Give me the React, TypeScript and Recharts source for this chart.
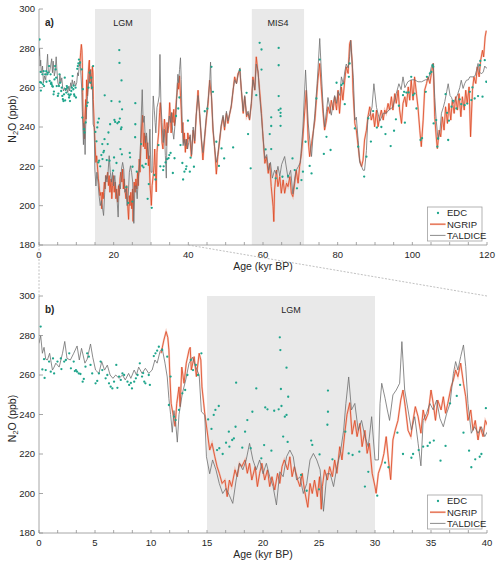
import React from 'react';
import { ComposedChart, Line, Scatter, XAxis, YAxis, ReferenceArea } from 'recharts';

// ---- N2O records (age in kyr BP, mixing ratio in ppb) ----

const edc: [number, number][] = [
  [0.15, 284.5], [0.3, 262.8], [0.45, 268], [0.5, 258.5], [0.6, 262.5], [0.9, 266.8], [1.05, 261.7], [1.25, 268.4],
  [1.35, 260.8], [1.65, 266.8], [1.95, 268.4], [2.0, 263], [2.25, 266.8], [2.4, 267.6], [2.7, 271], [2.85, 263.4],
  [3.1, 266.8], [3.2, 262], [3.3, 262.5], [3.4, 261.7], [3.55, 260.8], [3.7, 260.5], [3.9, 256.6], [4.0, 258],
  [4.15, 264.2], [4.3, 271], [4.45, 269.3], [4.6, 265.1], [4.75, 260.8], [5.05, 255.8], [5.2, 257], [5.35, 260.8],
  [5.5, 266.8], [5.65, 262.5], [5.95, 258.3], [6.1, 260], [6.25, 255.8], [6.4, 254.1], [6.55, 253.2], [6.7, 256.6],
  [6.9, 265.1], [7.0, 253.5], [7.15, 259.2], [7.3, 257.5], [7.45, 260.8], [7.6, 260], [7.9, 256.6], [8.05, 255],
  [8.2, 256], [8.3, 253.2], [8.5, 256.6], [8.65, 258.3], [8.8, 260], [9.0, 265.9], [9.2, 259.2], [9.3, 261],
  [9.4, 256.6], [9.5, 255.8], [9.8, 260], [9.9, 255], [10.25, 269.6], [10.4, 271], [10.55, 272.3], [10.7, 274.3],
  [11.0, 272.7], [11.45, 269.3], [11.6, 244.8], [11.75, 259.2], [12.05, 238.9], [12.2, 237.2], [12.5, 242.3],
  [12.8, 250.7], [13.05, 252.4], [13.25, 260], [13.55, 267.6], [13.75, 262.5], [14.0, 265.1], [14.2, 260], [14.5, 271],
  [15.1, 237.5], [15.4, 232.7], [15.6, 239.8], [15.75, 242.3], [15.9, 222], [16.05, 244.3], [16.1, 222.9], [16.4, 220],
  [16.7, 225.7], [16.95, 231.3], [17.0, 223.7], [17.25, 227.1], [17.4, 227.9], [17.55, 233.8], [17.6, 256.1],
  [18.15, 223.2], [18.4, 231.3], [18.6, 237.2], [18.9, 222.9], [19.05, 241.4], [19.4, 253.2], [19.85, 217.8],
  [20.1, 224.5], [20.2, 243.6], [20.4, 242.6], [20.75, 221.7], [21.0, 241.9], [21.4, 242.6], [21.5, 279.1],
  [21.55, 272.6], [21.6, 252.9], [21.65, 244.3], [21.8, 228.8], [21.95, 238.9], [22.1, 239.8], [22.1, 263.7],
  [22.2, 226.1], [22.25, 249], [23.4, 209.4], [23.9, 201.4], [24.3, 226.8], [24.4, 224.6], [25.0, 202.1],
  [25.05, 219.8], [25.75, 234.8], [25.8, 241.4], [25.8, 252.1], [26.2, 217.3], [27.35, 231.3], [27.65, 220.3],
  [28.0, 219.5], [28.6, 221.2], [29.1, 203.5], [29.4, 211], [30.2, 198.9], [30.9, 215.6], [31.2, 213.3], [32.0, 230.8],
  [32.5, 220], [33.25, 218.1], [33.4, 220], [33.9, 222], [34.3, 223.7], [34.7, 224.1], [34.9, 225.7], [35.25, 226.8],
  [35.85, 216.6], [36.3, 224.1], [36.7, 245.6], [37.3, 249.4], [37.6, 255], [37.9, 230.8], [38.4, 221.7], [38.6, 213.3],
  [38.95, 217.3], [39.35, 218.6], [39.5, 220], [39.9, 243.2], [40.4, 217.3], [40.6, 224.4], [41.5, 219.8], [44.4, 248],
  [45.1, 249.3], [46.2, 270.6], [46.6, 257.9], [47.5, 232.5], [48.2, 220.2], [48.9, 229.1], [49.6, 224], [52.0, 229.6],
  [53.8, 268.9], [55.6, 257.4], [56.0, 236.4], [56.7, 219], [58.2, 256.2], [59.1, 282.8], [59.6, 279.4], [59.6, 269.2],
  [60.7, 228.6], [61.8, 236.4], [62.2, 244.9], [62.2, 240.5], [62.2, 228.8], [63.4, 213.9], [64.2, 280.2], [64.2, 271.4],
  [64.2, 255.7], [64.2, 248.6], [64.7, 249.3], [64.7, 247.2], [64.7, 245.5], [64.7, 240.6], [65.2, 214.7], [66.7, 215.1],
  [67.9, 224], [68.5, 218.1], [69.1, 208.8], [70.3, 213], [70.7, 217.3], [71.4, 232.5], [72.5, 220.2], [73.0, 216.4],
  [74.3, 254.5], [75.2, 274.3], [76.3, 226.3], [77.0, 235], [78.1, 228.3], [79.7, 262.5], [81.0, 261.3], [81.4, 262.1],
  [81.9, 251.6], [83.0, 265.5], [83.2, 272.3], [84.6, 239.3], [85.5, 230], [87.1, 214.8], [87.7, 224.9], [88.2, 244.4],
  [88.9, 232.6], [89.5, 248.1], [90.5, 239.7], [91.7, 240], [92.8, 236.4], [94.2, 230.3], [95.1, 238.1], [95.6, 243.9],
  [96.4, 250.8], [97.5, 256.2], [97.8, 257.9], [98.0, 242.2], [98.4, 257.5], [99.0, 257.6], [99.7, 265.5], [100.2, 256.2],
  [100.6, 257], [101.1, 249.4], [102.2, 233.4], [102.6, 234.3], [103.6, 257.9], [103.9, 265.5], [104.7, 267.2],
  [105.1, 268], [105.4, 271.4], [105.6, 270.6], [105.7, 241.8], [106.4, 243.5], [106.7, 230], [106.9, 234.2],
  [108.9, 256.7], [109.3, 247.2], [109.6, 233.4], [109.8, 243.2], [110.5, 250.3], [110.9, 253.3], [111.8, 249.4],
  [112.7, 254], [113.1, 251.6], [114.0, 251.1], [114.7, 251.9], [115.4, 257.9], [115.8, 253.7], [116.1, 260.1],
  [116.7, 254.5], [117.6, 255.7], [118.1, 271.4], [118.2, 273.6], [118.8, 255.4], [119.4, 274], [119.8, 263],
];

const ngrip: [number, number][] = [
  [10.9, 271], [11.15, 277.7], [11.35, 282], [11.5, 279], [11.6, 272.7], [11.7, 257.5], [11.8, 245.6], [12.0, 239],
  [12.15, 234], [12.3, 245.6], [12.5, 254], [12.6, 244], [12.75, 264], [12.95, 255.8], [13.15, 266], [13.4, 272.7],
  [13.5, 274], [13.6, 262.5], [13.85, 269.3], [14.05, 259.2], [14.3, 271], [14.45, 267.6], [14.55, 254], [14.8, 240.6],
  [15.0, 232.1], [15.24, 222], [15.45, 225.4], [15.7, 218.6], [15.9, 213.6], [16.1, 210.2], [16.35, 205.1], [16.6, 206.8],
  [16.8, 198.4], [17.0, 206.8], [17.2, 203.5], [17.5, 212], [17.7, 208.5], [17.9, 215.3], [18.1, 213.6], [18.4, 217],
  [18.6, 210.2], [18.8, 215.3], [19.0, 206.8], [19.3, 213.6], [19.5, 203.5], [19.7, 210.2], [19.9, 215.3], [20.15, 206.8],
  [20.4, 212], [20.6, 203.5], [20.8, 208.5], [21.05, 201.8], [21.3, 210.2], [21.5, 205.1], [21.7, 213.6], [21.9, 217],
  [22.2, 212], [22.4, 218.6], [22.6, 208.5], [22.8, 213.6], [23.1, 206.8], [23.3, 203.5], [23.5, 210.2], [23.7, 201.8],
  [24.0, 193], [24.2, 205.1], [24.4, 200], [24.6, 206.8], [24.85, 198.4], [25.05, 208.5], [25.2, 192], [25.3, 203.5],
  [25.5, 212], [25.75, 206.8], [25.95, 213.6], [26.2, 208.5], [26.4, 217], [26.6, 210.2], [26.85, 223.7], [27.05, 217],
  [27.3, 230.5], [27.5, 240], [27.75, 246], [27.95, 230], [28.2, 237], [28.4, 228.8], [28.65, 235.5], [28.85, 223.7],
  [29.1, 232], [29.3, 220.3], [29.5, 225.4], [29.75, 210.2], [30.0, 203.5], [30.1, 200.1], [30.3, 210.2], [30.6, 215.3],
  [30.8, 220.3], [31.0, 228.8], [31.2, 217], [31.4, 207], [31.6, 227.1], [31.8, 232], [32.05, 237], [32.3, 247.3],
  [32.5, 252.4], [32.7, 244], [32.95, 232], [33.2, 228.8], [33.4, 237], [33.6, 244], [33.85, 238.9], [34.1, 230.5],
  [34.3, 242.3], [34.5, 237], [34.75, 240.6], [35.0, 252.4], [35.2, 245.6], [35.4, 237], [35.6, 247.3], [35.9, 242.3],
  [36.1, 249], [36.3, 240.6], [36.5, 245.6], [36.8, 254], [37.0, 257.5], [37.2, 262.5], [37.4, 259.2], [37.65, 266],
  [37.9, 255.8], [38.1, 249], [38.3, 237], [38.55, 242.3], [38.75, 232], [38.95, 237], [39.2, 227.1], [39.4, 233.8],
  [39.65, 228.8], [39.85, 237], [40.1, 233.8], [40.4, 235], [40.8, 225], [41.3, 238.4], [41.7, 231.7], [42.1, 245.2],
  [42.6, 258.7], [43.0, 246.9], [43.5, 233.4], [43.9, 223.2], [44.4, 235], [44.8, 243.5], [45.3, 252], [45.7, 263.8],
  [46.2, 255.4], [46.6, 238.4], [47.1, 228.3], [47.5, 216], [47.9, 225], [48.4, 233.4], [48.8, 240.1], [49.3, 245.2],
  [49.7, 238.4], [50.2, 246.9], [50.6, 241.8], [51.1, 246.9], [51.5, 250.3], [52.0, 258.7], [52.4, 265.5], [52.9, 262.1],
  [53.3, 267.2], [53.8, 268.9], [54.2, 258.7], [54.7, 246.9], [55.1, 255.4], [55.6, 245.2], [56.0, 246.9], [56.4, 243.5],
  [56.9, 252], [57.3, 265.5], [57.8, 258.7], [58.2, 275.7], [58.7, 267.2], [59.1, 258.7], [59.6, 246.9], [60.0, 235],
  [60.5, 221.5], [60.9, 224.9], [61.4, 216.4], [61.8, 221.5], [62.2, 209.7], [62.7, 199.5], [62.9, 191.9], [63.1, 208],
  [63.6, 218.1], [64.0, 209.7], [64.5, 214.8], [64.9, 206.3], [65.4, 213.1], [65.8, 206.3], [66.3, 211.4], [66.7, 209.7],
  [67.2, 214.8], [67.6, 206.3], [68.0, 204.6], [68.5, 211.4], [68.9, 218.1], [69.4, 211.4], [69.8, 219.8], [70.3, 226.6],
  [70.7, 235], [71.2, 248.6], [71.6, 258.7], [72.1, 233.4], [72.5, 224.9], [73.0, 231.7], [73.4, 236.7], [73.9, 243.5],
  [74.3, 253.6], [74.7, 263.8], [75.2, 272.3], [75.6, 260.4], [76.1, 246.9], [76.5, 238.4], [77.0, 243.5], [77.4, 250.3],
  [77.9, 246.9], [78.3, 253.6], [78.8, 248.6], [79.2, 255.4], [79.7, 248.6], [80.1, 258.7], [80.5, 246.9], [81.0, 260.4],
  [81.4, 253.6], [81.9, 263.8], [82.3, 270.6], [82.8, 267.2], [83.2, 282.4], [83.5, 284.1], [83.9, 272.3], [84.1, 258.7],
  [84.6, 241.8], [85.0, 238.4], [85.5, 230], [85.9, 223.2], [86.4, 219.8], [86.8, 223.2], [87.2, 233.4], [87.7, 238.4],
  [88.1, 245.2], [88.6, 250.3], [89.0, 243.5], [89.5, 246.9], [89.9, 240.1], [90.4, 248.6], [90.8, 240.1], [91.3, 245.2],
  [91.7, 248.6], [92.2, 243.5], [92.6, 248.6], [93.0, 246.9], [93.5, 252], [93.9, 248.6], [94.4, 255.4], [94.8, 248.6],
  [95.3, 257], [95.7, 252], [96.2, 258.7], [96.6, 248.6], [97.1, 241.8], [97.5, 252], [98.0, 255.4], [98.4, 250.3],
  [98.9, 260.4], [99.3, 253.6], [99.7, 263.8], [100.2, 253.6], [100.6, 265.5], [101.1, 257], [101.5, 250.3], [102.0, 238.4],
  [102.4, 230], [102.9, 243.5], [103.3, 258.7], [103.8, 262.1], [104.2, 265.5], [104.7, 262.1], [105.1, 267.2],
  [105.6, 272.3], [105.8, 258.7], [106.0, 245.2], [106.4, 235], [106.7, 229], [107.2, 238.4], [107.6, 235], [108.05, 245.2],
  [108.5, 238.4], [108.9, 250.3], [109.4, 241.8], [109.8, 252], [110.3, 243.5], [110.7, 253.6], [111.2, 246.9],
  [111.6, 255.4], [112.1, 248.6], [112.5, 257], [113.0, 245.2], [113.4, 255.4], [113.9, 248.6], [114.3, 258.7], [114.7, 252],
  [115.2, 260.4], [115.6, 235], [116.1, 258.7], [116.5, 265.5], [117.0, 262.1], [117.4, 270.6], [117.9, 265.5],
  [118.3, 273.9], [118.8, 279], [119.1, 275.6], [119.5, 285.8], [119.8, 289],
];

const taldice: [number, number][] = [
  [0, 276], [0.15, 280], [0.3, 271], [0.45, 274], [0.6, 268], [0.75, 267.6], [0.95, 271], [1.2, 262.5], [1.35, 264],
  [1.5, 266], [1.8, 264], [2.1, 271], [2.3, 277], [2.5, 268.4], [2.8, 267.6], [3.1, 271], [3.4, 274.7], [3.6, 267.6],
  [3.8, 273.5], [4.1, 266], [4.3, 268], [4.6, 275.7], [4.8, 269], [5.05, 262.5], [5.35, 260.8], [5.6, 266.8], [5.85, 262.5],
  [6.1, 265], [6.35, 260], [6.6, 258.3], [6.85, 260], [7.15, 258.3], [7.45, 260], [7.7, 257.5], [8.0, 260.8], [8.2, 258.3],
  [8.5, 262.5], [8.7, 260], [8.9, 264], [9.2, 260.8], [9.5, 263.4], [9.8, 260.8], [10.1, 262.5], [10.35, 267.6], [10.55, 266],
  [10.8, 271.8], [11.0, 273.5], [11.25, 266], [11.45, 259], [11.6, 248], [11.75, 240], [11.9, 231], [12.05, 242], [12.2, 236],
  [12.35, 226], [12.5, 240], [12.8, 250.7], [13.1, 257.5], [13.4, 266], [13.7, 269], [14.0, 264], [14.3, 260], [14.5, 241.4],
  [14.8, 239.7], [14.95, 218.6], [15.24, 210], [15.5, 217], [15.8, 212], [16.1, 205], [16.4, 200], [16.7, 202.6], [17.0, 199],
  [17.3, 195], [17.6, 206.8], [17.9, 215.3], [18.2, 212], [18.5, 217], [18.8, 225.4], [19.1, 217], [19.4, 212], [19.7, 217],
  [20.0, 210], [20.3, 215.3], [20.6, 208.5], [20.9, 203.5], [21.2, 194.2], [21.5, 211], [21.8, 208.5], [22.1, 218.6],
  [22.4, 222], [22.7, 218.6], [23.0, 206.8], [23.3, 208.5], [23.6, 200], [23.9, 205], [24.2, 217], [24.5, 220.3], [24.8, 217],
  [25.1, 212], [25.4, 191], [25.7, 210], [26.0, 210], [26.3, 203.5], [26.6, 213.6], [26.9, 220.3], [27.2, 232], [27.4, 245.6],
  [27.65, 259], [27.9, 242.3], [28.2, 245.6], [28.5, 232], [28.8, 237], [29.1, 228.8], [29.4, 223.7], [29.7, 238.9],
  [30.0, 217], [30.3, 217], [30.45, 245.6], [30.6, 255.8], [30.9, 248.2], [31.1, 242.3], [31.3, 237], [31.6, 249.9],
  [31.9, 252.4], [32.2, 255.8], [32.4, 276.9], [32.65, 252.4], [32.95, 242.3], [33.25, 232.1], [33.55, 238.9], [33.85, 225.4],
  [34.1, 214], [34.3, 237], [34.6, 240.6], [34.9, 245.6], [35.2, 242.3], [35.5, 247.3], [35.8, 238], [36.1, 233.8],
  [36.4, 240.6], [36.7, 245.6], [37.0, 260.8], [37.2, 266.8], [37.4, 262.5], [37.65, 269.3], [37.9, 275.2], [38.1, 264.2],
  [38.3, 245.6], [38.6, 230.5], [38.9, 233.8], [39.2, 230.5], [39.5, 233.8], [39.8, 228.8], [40.1, 232], [40.5, 236],
  [40.9, 226], [41.3, 240], [41.7, 233], [42.1, 246], [42.6, 256], [43.0, 248], [43.5, 234], [43.9, 227], [44.4, 236],
  [44.8, 245], [45.3, 254], [45.7, 262], [45.95, 273], [46.2, 256], [46.6, 240], [47.1, 228], [47.5, 222], [47.9, 226],
  [48.4, 234], [48.8, 241], [49.3, 246], [49.7, 240], [50.2, 248], [50.6, 243], [51.1, 247], [51.5, 251], [52.0, 259],
  [52.4, 264], [52.9, 262], [53.3, 266], [53.8, 270], [54.2, 259], [54.7, 248], [55.1, 256], [55.6, 246], [56.0, 248],
  [56.4, 244], [56.9, 253], [57.3, 264], [57.8, 259], [58.2, 272], [58.7, 268], [59.1, 256], [59.6, 245], [60.0, 235],
  [60.5, 224], [61.0, 226], [61.5, 218], [62.0, 222], [62.5, 214], [63.1, 218], [63.6, 216], [64.0, 220], [64.5, 215],
  [65.0, 221], [65.8, 225], [66.7, 214], [67.4, 218], [68.0, 206], [68.5, 214], [68.9, 218], [69.5, 220], [70.0, 222],
  [70.7, 240], [71.4, 269], [72.1, 242], [72.6, 232], [73.0, 225], [73.5, 238], [73.9, 247], [74.5, 262], [75.2, 285],
  [75.6, 269], [76.1, 250], [76.5, 240], [77.0, 248], [77.4, 255], [77.9, 250], [78.3, 246], [78.8, 252], [79.2, 256],
  [79.7, 252], [80.1, 258], [80.6, 256], [81.0, 265.5], [81.5, 262], [81.9, 268], [82.3, 272], [82.8, 270], [83.2, 275.7],
  [83.5, 284], [83.9, 272], [84.2, 265], [84.6, 243.5], [85.0, 245], [85.5, 233], [85.9, 222], [86.4, 220], [86.8, 218],
  [87.2, 218], [87.7, 228], [88.1, 245], [88.6, 246], [89.2, 250], [89.7, 262], [90.4, 250], [91.3, 243], [92.2, 247],
  [93.0, 247], [93.9, 249], [94.8, 250], [95.7, 257], [96.4, 262], [97.0, 259], [97.5, 265.5], [98.0, 260], [98.8, 263],
  [99.7, 264], [100.6, 264], [101.5, 263], [102.5, 263], [103.5, 264], [104.2, 264], [104.7, 267], [105.1, 270.6],
  [105.6, 272.3], [106.0, 255], [106.4, 243.5], [106.9, 233.4], [107.4, 238], [107.8, 247], [108.3, 250], [108.7, 253],
  [109.2, 258], [109.6, 262], [110.1, 256], [110.5, 255], [111.0, 252], [111.4, 253.6], [111.8, 255], [112.2, 257],
  [112.7, 260], [113.1, 263.8], [113.6, 259.6], [114.0, 262], [114.5, 263.8], [115.0, 264], [115.4, 265.5], [116.3, 265.5],
  [116.8, 266], [117.2, 268.9], [117.6, 272.3], [118.0, 268], [118.5, 267], [119.0, 268], [119.4, 271], [119.8, 270], [120, 270],
];

// Shaded climate stages
const stagesFull = [
  { label: 'LGM', from: 15, to: 30 },
  { label: 'MIS4', from: 57, to: 71 },
];
const stagesZoom = [{ label: 'LGM', from: 15, to: 30 }];

const yTicks = [180, 200, 220, 240, 260, 280, 300];
const xTicksFull = Array.from({ length: 25 }, (_, i) => i * 5);
const xTicksZoom = Array.from({ length: 25 }, (_, i) => (i * 5) / 3);

// ---- styling ----
const FONT = '"Liberation Sans", Arial, Helvetica, sans-serif';
const AXIS = '#8f8f8f';
const TEXT = '#262626';
const EDC_COLOR = '#1ea58c';
const NGRIP_COLOR = '#dc4520';
const NGRIP_HALO = '#f3a994';
const TALDICE_COLOR = '#6f6f6f';
const SHADE = '#e9e9e9';

const CHART_W = 500;
const PLOT_LEFT = 39;
const PLOT_RIGHT = 487;

const toRows = (pairs: [number, number][], maxAge: number) =>
  pairs.filter(([a]) => a <= maxAge).map(([age, v]) => ({ age, v }));

type Stage = { label: string; from: number; to: number };

type PanelProps = {
  height: number;
  marginTop: number;
  marginBottom: number;
  xMax: number;
  xTicks: number[];
  majorStep: number;
  stages: Stage[];
  yLabelShift: number;
};

const isMajor = (v: number, step: number) => Math.abs(v / step - Math.round(v / step)) < 1e-6;

function Panel({ height, marginTop, marginBottom, xMax, xTicks, majorStep, stages, yLabelShift }: PanelProps) {
  const edcRows = toRows(edc, xMax + 1);
  const ngripRows = toRows(ngrip, xMax + 1);
  const taldiceRows = toRows(taldice, xMax + 1);

  const bottomTick = (p: any) => {
    const v = p.payload.value;
    return (
      <g>
        <line x1={p.x} x2={p.x} y1={p.y} y2={p.y - 3} stroke={AXIS} strokeWidth={0.8} />
        {isMajor(v, majorStep) && (
          <text x={p.x} y={p.y + 13} textAnchor="middle" fontSize={9.5} fill={TEXT} fontFamily={FONT}>
            {Math.round(v)}
          </text>
        )}
      </g>
    );
  };
  const topTick = (p: any) => (
    <line x1={p.x} x2={p.x} y1={p.y} y2={p.y + 3} stroke={AXIS} strokeWidth={0.8} />
  );
  const leftTick = (p: any) => (
    <g>
      <line x1={p.x} x2={p.x + 4} y1={p.y} y2={p.y} stroke={AXIS} strokeWidth={0.8} />
      <text x={p.x - 4} y={p.y + 3.3} textAnchor="end" fontSize={9.5} fill={TEXT} fontFamily={FONT}>
        {p.payload.value}
      </text>
    </g>
  );
  const rightTick = (p: any) => (
    <line x1={p.x} x2={p.x - 4} y1={p.y} y2={p.y} stroke={AXIS} strokeWidth={0.8} />
  );
  const yLabel = (p: any) => {
    const vb = p.viewBox || { y: marginTop, height: height - marginTop - marginBottom - 30 };
    const cx = 15.5;
    const cy = vb.y + vb.height / 2 + yLabelShift;
    return (
      <text
        x={cx}
        y={cy}
        transform={`rotate(-90, ${cx}, ${cy})`}
        textAnchor="middle"
        fontSize={10.5}
        fill={TEXT}
        fontFamily={FONT}
      >
        N<tspan dy={2.5} fontSize={7.5}>2</tspan>
        <tspan dy={-2.5}>O (ppb)</tspan>
      </text>
    );
  };

  return (
    <ComposedChart
      width={CHART_W}
      height={height}
      margin={{ top: marginTop, right: CHART_W - PLOT_RIGHT, bottom: marginBottom, left: 0 }}
      style={{ fontFamily: FONT }}
    >
      {stages.map((s) => (
        <ReferenceArea
          key={s.label}
          x1={s.from}
          x2={s.to}
          fill={SHADE}
          fillOpacity={1}
          stroke="none"
          label={{ value: s.label, position: 'insideTop', offset: 11, fontSize: 9, fill: TEXT, fontFamily: FONT }}
        />
      ))}
      <XAxis
        dataKey="age"
        type="number"
        domain={[0, xMax]}
        ticks={xTicks}
        interval={0}
        allowDataOverflow
        height={30}
        tickSize={0}
        tickMargin={0}
        axisLine={{ stroke: AXIS, strokeWidth: 0.8 }}
        tick={bottomTick}
        label={{ value: 'Age (kyr BP)', position: 'insideBottom', offset: 5.5, fontSize: 10.5, fill: TEXT, fontFamily: FONT }}
      />
      <XAxis
        xAxisId="mirror"
        orientation="top"
        type="number"
        domain={[0, xMax]}
        ticks={xTicks}
        interval={0}
        allowDataOverflow
        height={0}
        tickSize={0}
        tickMargin={0}
        axisLine={{ stroke: AXIS, strokeWidth: 0.8 }}
        tick={topTick}
      />
      <YAxis
        type="number"
        dataKey="v"
        domain={[180, 300]}
        ticks={yTicks}
        interval={0}
        allowDataOverflow
        width={PLOT_LEFT}
        tickSize={0}
        tickMargin={0}
        axisLine={{ stroke: AXIS, strokeWidth: 0.8 }}
        tick={leftTick}
        label={{ content: yLabel }}
      />
      <YAxis
        yAxisId="mirror"
        orientation="right"
        type="number"
        domain={[180, 300]}
        ticks={yTicks}
        interval={0}
        allowDataOverflow
        width={0}
        tickSize={0}
        tickMargin={0}
        axisLine={{ stroke: AXIS, strokeWidth: 0.8 }}
        tick={rightTick}
      />
      <Scatter
        data={edcRows}
        dataKey="v"
        fill={EDC_COLOR}
        isAnimationActive={false}
        shape={(p: any) => <circle cx={p.cx} cy={p.cy} r={1.15} fill={EDC_COLOR} />}
      />
      <Line
        data={ngripRows}
        dataKey="v"
        type="linear"
        dot={false}
        stroke={NGRIP_HALO}
        strokeWidth={2}
        strokeOpacity={0.6}
        isAnimationActive={false}
      />
      <Line
        data={ngripRows}
        dataKey="v"
        type="linear"
        dot={false}
        stroke={NGRIP_COLOR}
        strokeWidth={0.8}
        isAnimationActive={false}
      />
      <Line
        data={taldiceRows}
        dataKey="v"
        type="linear"
        dot={false}
        stroke={TALDICE_COLOR}
        strokeWidth={0.8}
        isAnimationActive={false}
      />
    </ComposedChart>
  );
}

function LegendBox({ x, y }: { x: number; y: number }) {
  const entries = [
    { name: 'EDC', kind: 'dot', color: EDC_COLOR },
    { name: 'NGRIP', kind: 'ngrip', color: NGRIP_COLOR },
    { name: 'TALDICE', kind: 'line', color: TALDICE_COLOR },
  ];
  return (
    <g>
      <rect x={x} y={y} width={54.5} height={34} fill="#ffffff" stroke="#a0a0a0" strokeWidth={0.8} />
      {entries.map((e, i) => {
        const cy = y + 6 + i * 11.2;
        return (
          <g key={e.name}>
            {e.kind === 'dot' && <circle cx={x + 10.5} cy={cy} r={1.15} fill={e.color} />}
            {e.kind === 'ngrip' && (
              <>
                <line x1={x + 2.5} x2={x + 18} y1={cy} y2={cy} stroke={NGRIP_HALO} strokeWidth={2} strokeOpacity={0.7} />
                <line x1={x + 2.5} x2={x + 18} y1={cy} y2={cy} stroke={e.color} strokeWidth={0.8} />
              </>
            )}
            {e.kind === 'line' && (
              <line x1={x + 2.5} x2={x + 18} y1={cy} y2={cy} stroke={e.color} strokeWidth={0.8} />
            )}
            <text x={x + 19.5} y={cy + 3.3} fontSize={9.5} fill={TEXT} fontFamily={FONT}>
              {e.name}
            </text>
          </g>
        );
      })}
    </g>
  );
}

export default function App() {
  const TOP_H = 280;
  const topPlotBottom = TOP_H - 5 - 30;
  const bottomPlotTop = TOP_H + 16;
  const zoomEndX = PLOT_LEFT + (40 / 120) * (PLOT_RIGHT - PLOT_LEFT);

  return (
    <div style={{ position: 'absolute', left: 0, top: 0, width: 500, height: 566, background: '#fff' }}>
      <div style={{ position: 'absolute', left: 0, top: 0 }}>
        <Panel
          height={TOP_H}
          marginTop={9}
          marginBottom={5}
          xMax={120}
          xTicks={xTicksFull}
          majorStep={20}
          stages={stagesFull}
          yLabelShift={-8}
        />
      </div>
      <div style={{ position: 'absolute', left: 0, top: TOP_H }}>
        <Panel
          height={286}
          marginTop={16}
          marginBottom={3}
          xMax={40}
          xTicks={xTicksZoom}
          majorStep={5}
          stages={stagesZoom}
          yLabelShift={4}
        />
      </div>
      <svg
        width={500}
        height={566}
        style={{ position: 'absolute', left: 0, top: 0, pointerEvents: 'none' }}
      >
        <line x1={PLOT_LEFT} x2={PLOT_LEFT} y1={topPlotBottom} y2={bottomPlotTop} stroke="#b0b0b0" strokeWidth={0.8} strokeDasharray="2 1.5" />
        <line x1={zoomEndX} x2={PLOT_RIGHT} y1={topPlotBottom} y2={bottomPlotTop} stroke="#b0b0b0" strokeWidth={0.8} strokeDasharray="2 1.5" />
        <text x={45} y={26} fontSize={10} fontWeight="bold" fill={TEXT} fontFamily={FONT}>a)</text>
        <text x={45} y={313} fontSize={10} fontWeight="bold" fill={TEXT} fontFamily={FONT}>b)</text>
        <LegendBox x={427.5} y={207} />
        <LegendBox x={427.5} y={495} />
      </svg>
    </div>
  );
}
